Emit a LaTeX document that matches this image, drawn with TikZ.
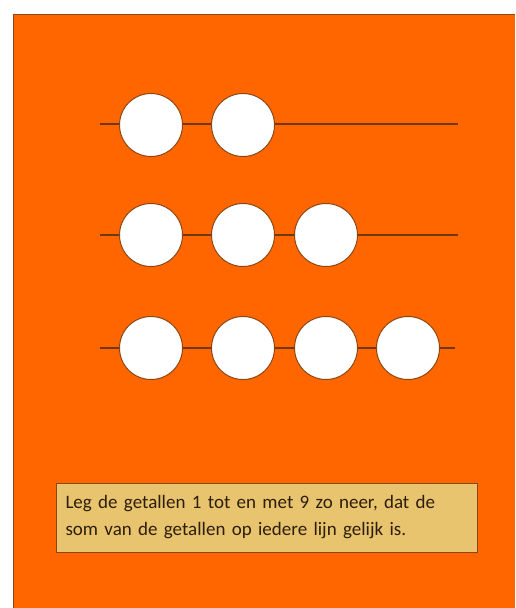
\documentclass[tikz,border=0pt]{standalone}
\usepackage{fontspec}
\setmainfont{Carlito}
\definecolor{bgorange}{RGB}{255,102,0}
\definecolor{edgebrown}{RGB}{140,70,20}
\definecolor{boxtan}{RGB}{232,196,110}
\definecolor{txtdark}{RGB}{45,30,10}
\begin{document}
\begin{tikzpicture}[x=1pt,y=-1pt,
  bead/.style={circle,draw=edgebrown,line width=1pt,fill=white,minimum size=63pt,inner sep=0pt},
  wire/.style={draw=edgebrown!80!black,line width=1.2pt},
  notebox/.style={draw=edgebrown,line width=1pt,fill=boxtan,text=txtdark,
    minimum width=421pt,minimum height=69pt,inner sep=0pt,text width=402pt,align=left,
    font=\fontsize{19}{27}\selectfont}]
\useasboundingbox (0,0) rectangle (515,608);
\fill[white] (0,0) rectangle (515,608);
\fill[bgorange] (13,14) rectangle (515,608);
\draw[edgebrown,line width=1pt] (13,608) -- (13,14) -- (515,14);
% wires
\coordinate (l1a) at (100,124); \coordinate (l1b) at (458,124);
\coordinate (l2a) at (100,235); \coordinate (l2b) at (458,235);
\coordinate (l3a) at (100,348); \coordinate (l3b) at (455,348);
\draw[wire] (l1a) -- (l1b);
\draw[wire] (l2a) -- (l2b);
\draw[wire] (l3a) -- (l3b);
% beads
\node[bead] (a1) at (151,125) {};
\node[bead] (a2) at (243,125) {};
\node[bead] (b1) at (151,235) {};
\node[bead] (b2) at (243,235) {};
\node[bead] (b3) at (326,235) {};
\node[bead] (c1) at (151,348) {};
\node[bead] (c2) at (243,348) {};
\node[bead] (c3) at (326,348) {};
\node[bead] (c4) at (408,348) {};
% text box
\node[notebox] (note) at (266.5,517.5) {Leg de getallen 1 tot en met 9 zo neer, dat de\\som van de getallen op iedere lijn gelijk is.};
\end{tikzpicture}
\end{document}
